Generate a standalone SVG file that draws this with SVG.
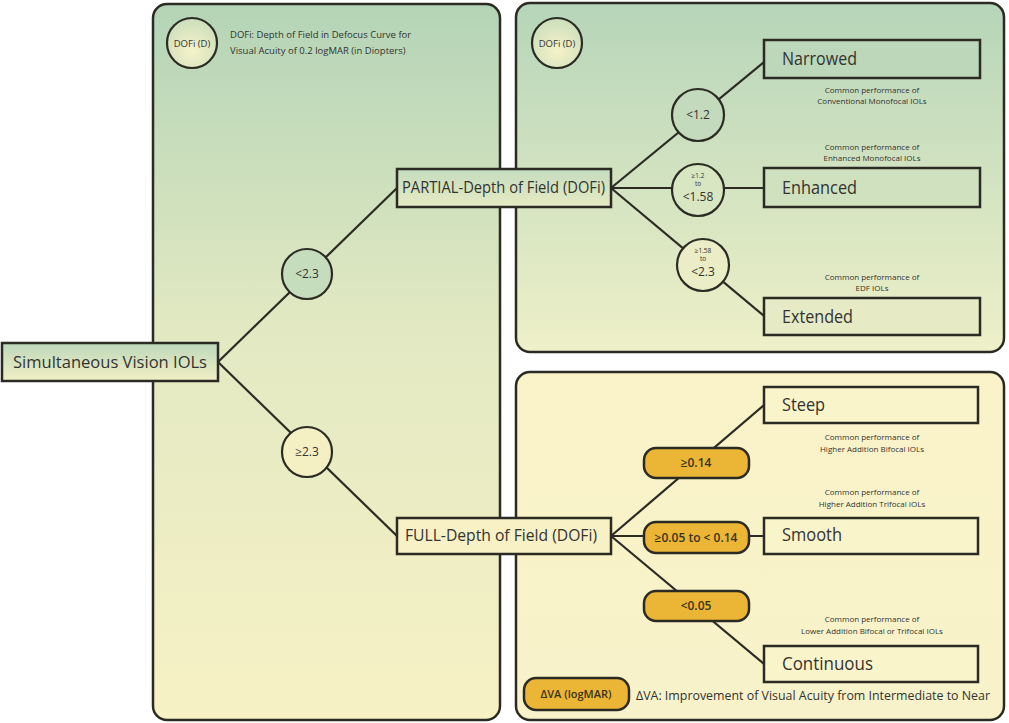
<svg xmlns="http://www.w3.org/2000/svg" width="1009" height="723" viewBox="0 0 1009 723">
<defs>
<linearGradient id="gLeft" x1="0" y1="0" x2="0" y2="1">
<stop offset="0" stop-color="#b4d4b7"/><stop offset="0.45" stop-color="#e2e9c2"/><stop offset="1" stop-color="#f7f1c5"/>
</linearGradient>
<linearGradient id="gTR" x1="0" y1="0" x2="0" y2="1">
<stop offset="0" stop-color="#b6d5b9"/><stop offset="1" stop-color="#eef0c8"/>
</linearGradient>
<linearGradient id="gBR" x1="0" y1="0" x2="0" y2="1">
<stop offset="0" stop-color="#faf3c9"/><stop offset="1" stop-color="#f8f2ca"/>
</linearGradient>
<linearGradient id="gBox" x1="0" y1="0" x2="0" y2="1">
<stop offset="0" stop-color="#bcd8bb"/><stop offset="1" stop-color="#f2efc4"/>
</linearGradient>
<linearGradient id="gBox2" x1="0" y1="0" x2="0" y2="1">
<stop offset="0" stop-color="#c4dcbd"/><stop offset="1" stop-color="#e6ebc4"/>
</linearGradient>
<radialGradient id="gCirc" cx="0.5" cy="0.65" r="0.6">
<stop offset="0" stop-color="#f6f2c8"/><stop offset="1" stop-color="#cfe0bd"/>
</radialGradient>
<style>
.panel{stroke:#2b2b24;stroke-width:2.5}
.box{stroke:#2b2b24;stroke-width:2.5}
.circ{stroke:#2b2b24;stroke-width:2.2}
.pill{fill:#ebb635;stroke:#2b2b24;stroke-width:2.5}
.con{stroke:#2b2b24;stroke-width:2.2;fill:none}
text{font-family:"Open Sans","Liberation Sans",sans-serif;fill:#333330}
.lbl{font-size:16px}
.big{font-size:18px}
.sm{font-size:8px;text-anchor:middle}
.cl{font-size:12px;text-anchor:middle}
.tiny{font-size:6.5px;text-anchor:middle}
.pt{font-size:12px;text-anchor:middle;font-weight:600;fill:#3a3320}
</style>
</defs>
<rect width="1009" height="723" fill="#ffffff"/>

<g id="panel-left">
<rect class="panel" x="153" y="4" width="347" height="716" rx="14" fill="url(#gLeft)"/>
</g>
<g id="panel-top-right">
<rect class="panel" x="516" y="3" width="488" height="349" rx="14" fill="url(#gTR)"/>
</g>
<g id="panel-bottom-right">
<rect class="panel" x="516" y="372" width="488" height="348" rx="14" fill="url(#gBR)"/>
</g>

<g id="connectors">
<polyline class="con" points="218,362 397,188"/>
<polyline class="con" points="218,362 397,536"/>
<polyline class="con" points="611,188 764,62"/>
<polyline class="con" points="611,188 764,188"/>
<polyline class="con" points="611,188 764,316"/>
<polyline class="con" points="611,536 764,405"/>
<polyline class="con" points="611,536 764,536"/>
<polyline class="con" points="611,536 764,664"/>
</g>

<g id="legend-dofi">
<circle class="circ" cx="192" cy="43" r="25" fill="url(#gCirc)"/>
<text x="192" y="46.5" style="font-size:9.5px;text-anchor:middle">DOFi (D)</text>
<text x="230" y="38" style="font-size:9.5px">DOFi: Depth of Field in Defocus Curve for</text>
<text x="230" y="54" style="font-size:9.5px">Visual Acuity of 0.2 logMAR (in Diopters)</text>
</g>

<g id="legend-dofi-2">
<circle class="circ" cx="557" cy="43" r="25" fill="url(#gCirc)"/>
<text x="557" y="46.5" style="font-size:9.5px;text-anchor:middle">DOFi (D)</text>
</g>

<g id="node-simultaneous">
<rect class="box" x="2" y="343" width="216" height="38" fill="url(#gBox)"/>
<text class="lbl" x="13" y="368" textLength="194" lengthAdjust="spacingAndGlyphs">Simultaneous Vision IOLs</text>
</g>

<g id="cond-lt23">
<circle class="circ" cx="307" cy="274" r="25" fill="#c6ddbd"/>
<text class="cl" x="307" y="278">&lt;2.3</text>
</g>
<g id="cond-ge23">
<circle class="circ" cx="307" cy="452" r="25" fill="#f5efc4"/>
<text class="cl" x="307" y="456">≥2.3</text>
</g>

<g id="node-partial">
<rect class="box" x="397" y="169" width="214" height="38" fill="url(#gBox2)"/>
<text class="lbl" x="402" y="193" textLength="203" lengthAdjust="spacingAndGlyphs">PARTIAL-Depth of Field (DOFi)</text>
</g>
<g id="node-full">
<rect class="box" x="397" y="518" width="214" height="36" fill="#f7f1c5"/>
<text class="lbl" x="405" y="541" textLength="192" lengthAdjust="spacingAndGlyphs">FULL-Depth of Field (DOFi)</text>
</g>

<g id="cond-lt12">
<circle class="circ" cx="698" cy="115" r="26" fill="#c3dbbc"/>
<text class="cl" x="698" y="119">&lt;1.2</text>
</g>
<g id="cond-12-158">
<circle class="circ" cx="698" cy="190" r="26" fill="#d9e6c2"/>
<text class="tiny" x="698" y="178">≥1.2</text>
<text class="tiny" x="698" y="186">to</text>
<text x="698" y="201" style="font-size:12px;text-anchor:middle">&lt;1.58</text>
</g>
<g id="cond-158-23">
<circle class="circ" cx="703" cy="265" r="26" fill="#eaedc6"/>
<text class="tiny" x="703" y="253">≥1.58</text>
<text class="tiny" x="703" y="261">to</text>
<text x="703" y="276" style="font-size:12px;text-anchor:middle">&lt;2.3</text>
</g>

<g id="node-narrowed">
<rect class="box" x="764" y="40" width="216" height="38" fill="#bcd7ba"/>
<text class="big" x="782" y="65" textLength="75" lengthAdjust="spacingAndGlyphs">Narrowed</text>
<text class="sm" x="872" y="93">Common performance of</text>
<text class="sm" x="872" y="104">Conventional Monofocal IOLs</text>
</g>
<g id="node-enhanced">
<text class="sm" x="872" y="150">Common performance of</text>
<text class="sm" x="872" y="161">Enhanced Monofocal IOLs</text>
<rect class="box" x="764" y="168" width="216" height="39" fill="#cfe1bf"/>
<text class="big" x="782" y="194" textLength="75" lengthAdjust="spacingAndGlyphs">Enhanced</text>
</g>
<g id="node-extended">
<text class="sm" x="872" y="280">Common performance of</text>
<text class="sm" x="872" y="291">EDF IOLs</text>
<rect class="box" x="764" y="298" width="216" height="37" fill="#e6ebc5"/>
<text class="big" x="782" y="323" textLength="71" lengthAdjust="spacingAndGlyphs">Extended</text>
</g>

<g id="cond-ge014">
<rect class="pill" x="644" y="448" width="105" height="30" rx="12"/>
<text class="pt" x="696" y="467">≥0.14</text>
</g>
<g id="cond-005-014">
<rect class="pill" x="644" y="522" width="105" height="31" rx="12"/>
<text class="pt" x="696" y="542">≥0.05 to &lt; 0.14</text>
</g>
<g id="cond-lt005">
<rect class="pill" x="644" y="591" width="105" height="30" rx="12"/>
<text class="pt" x="696" y="610">&lt;0.05</text>
</g>

<g id="node-steep">
<rect class="box" x="764" y="387" width="214" height="36" fill="#faf4cb"/>
<text class="big" x="782" y="411" textLength="43" lengthAdjust="spacingAndGlyphs">Steep</text>
<text class="sm" x="872" y="440">Common performance of</text>
<text class="sm" x="872" y="452">Higher Addition Bifocal IOLs</text>
</g>
<g id="node-smooth">
<text class="sm" x="872" y="495">Common performance of</text>
<text class="sm" x="872" y="507">Higher Addition Trifocal IOLs</text>
<rect class="box" x="764" y="518" width="214" height="36" fill="#faf4cb"/>
<text class="big" x="782" y="541" textLength="60" lengthAdjust="spacingAndGlyphs">Smooth</text>
</g>
<g id="node-continuous">
<text class="sm" x="872" y="622">Common performance of</text>
<text class="sm" x="872" y="634">Lower Addition Bifocal or Trifocal IOLs</text>
<rect class="box" x="764" y="646" width="214" height="36" fill="#faf4cb"/>
<text class="big" x="782" y="670" textLength="91" lengthAdjust="spacingAndGlyphs">Continuous</text>
</g>

<g id="legend-dva">
<rect class="pill" x="524" y="678" width="105" height="32" rx="12"/>
<text class="pt" x="576" y="698" style="font-size:11px">ΔVA (logMAR)</text>
<text x="636" y="700" style="font-size:12.5px" textLength="354" lengthAdjust="spacingAndGlyphs">ΔVA: Improvement of Visual Acuity from Intermediate to Near</text>
</g>
</svg>
